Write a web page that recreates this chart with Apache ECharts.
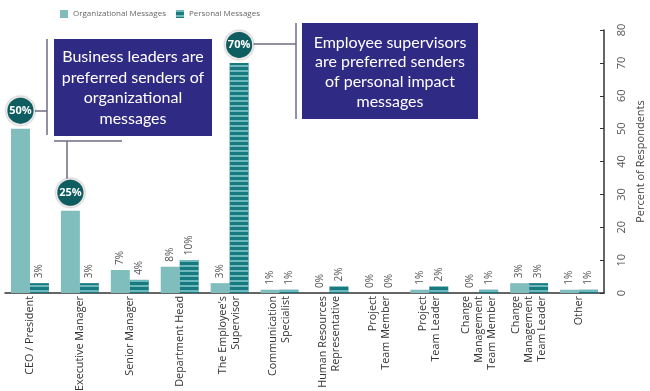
<!DOCTYPE html>
<html>
<head>
<meta charset="utf-8">
<script src="https://cdn.jsdelivr.net/npm/echarts@6/dist/echarts.min.js"></script>
<style>html,body{margin:0;padding:0;background:#fff;}#c{width:650px;height:391px;}</style>
</head>
<body>
<div id="c"></div>
<script>
var categories = ["CEO / President","Executive Manager","Senior Manager","Department Head","The Employee's\nSupervisor","Communication\nSpecialist","Human Resources\nRepresentative","Project\nTeam Member","Project\nTeam Leader","Change\nManagement\nTeam Member","Change\nManagement\nTeam Leader","Other"];
var orgValues = [50,25,7,8,3,1,0,0,1,0,3,1];
var personalValues = [3,3,4,10,70,1,2,0,2,1,3,1];
var highlightOrg = [0,1];
var highlightPersonal = [4];
var yTicks = [0,10,20,30,40,50,60,70,80];

var FONT = "'Open Sans', sans-serif";
var plainLabel = {show:true, position:'top', rotate:90, align:'left', verticalAlign:'middle', distance:5, formatter:'{c}%', color:'#555', fontSize:10, fontFamily:FONT};
var circleLabel = {show:true, position:'top', rotate:0, distance:5, formatter:'{c}%', color:'#fff', fontWeight:'bold', fontSize:11, fontFamily:FONT,
  backgroundColor:'#0e5d60', width:26, height:26, lineHeight:26, align:'center', verticalAlign:'bottom', borderRadius:13, borderColor:'#fff', borderWidth:1.5, shadowColor:'rgba(0,0,0,0.45)', shadowBlur:2};

function build(vals, hl){
  return vals.map(function(v,i){
    return hl.indexOf(i) >= 0 ? {value:v, label:circleLabel} : {value:v};
  });
}

var chart = echarts.init(document.getElementById('c'), null, {renderer:'canvas'});
var boxColor = '#2f2a84';
var lineColor = '#6e6d85';
chart.setOption({
  animation:false,
  legend:{left:55, top:5, itemWidth:8, itemHeight:8, itemGap:10, icon:'rect', textStyle:{fontSize:8, color:'#666', fontFamily:FONT},
    data:['Organizational Messages','Personal Messages']},
  grid:{left:5, right:46, top:30, bottom:98, outerBoundsMode:'none', containLabel:false},
  xAxis:{type:'category', data:categories,
    axisLine:{lineStyle:{color:'#333', width:1.5}},
    axisTick:{alignWithLabel:true, length:5, lineStyle:{color:'#333', width:1.5}},
    axisLabel:{rotate:90, interval:0, fontSize:10.8, color:'#333', fontFamily:FONT, margin:3, lineHeight:13}},
  yAxis:{type:'value', position:'right', min:0, max:80, interval:10,
    name:'Percent of Respondents', nameLocation:'middle', nameRotate:90, nameGap:24,
    nameTextStyle:{fontSize:11, color:'#444', fontFamily:FONT},
    axisLine:{show:true, lineStyle:{color:'#333', width:1.5}},
    axisTick:{show:true, inside:true, length:4, lineStyle:{color:'#333'}},
    splitLine:{show:false},
    axisLabel:{rotate:90, fontSize:11, color:'#555', fontFamily:FONT, margin:12,
      formatter:function(v){return yTicks.indexOf(v)>=0 ? String(v) : '';}}},
  series:[
    {name:'Organizational Messages', type:'bar', data:build(orgValues, highlightOrg), barGap:'0%', barCategoryGap:'24%',
      itemStyle:{color:'#80bdbd'}, label:plainLabel},
    {name:'Personal Messages', type:'bar', data:build(personalValues, highlightPersonal),
      itemStyle:{color:'#177a80', decal:{symbol:'rect', symbolSize:1, dashArrayX:[1,0], dashArrayY:[1.2,2.3], color:'rgba(170,225,228,0.6)', rotation:0}},
      label:plainLabel}
  ],
  graphic:[
    {type:'rect', shape:{x:54, y:39, width:158, height:97}, style:{fill:boxColor}},
    {type:'text', x:133, y:88, style:{text:"Business leaders are\npreferred senders of\norganizational\nmessages", fill:'#fff', font:"16px Lato, sans-serif", lineHeight:20.5, align:'center', verticalAlign:'middle'}},
    {type:'rect', shape:{x:302, y:23, width:176, height:96}, style:{fill:boxColor}},
    {type:'text', x:390, y:72, style:{text:"Employee supervisors\nare preferred senders\nof personal impact\nmessages", fill:'#fff', font:"16px Lato, sans-serif", lineHeight:19.7, align:'center', verticalAlign:'middle'}},
    {type:'line', shape:{x1:47, y1:39, x2:47, y2:135}, style:{stroke:lineColor, lineWidth:1.5}},
    {type:'line', shape:{x1:32, y1:111, x2:47, y2:111}, style:{stroke:lineColor, lineWidth:1.5}},
    {type:'line', shape:{x1:54, y1:141, x2:122, y2:141}, style:{stroke:lineColor, lineWidth:1.5}},
    {type:'line', shape:{x1:67, y1:141, x2:67, y2:180}, style:{stroke:lineColor, lineWidth:1.5}},
    {type:'line', shape:{x1:296, y1:23, x2:296, y2:119}, style:{stroke:lineColor, lineWidth:1.5}},
    {type:'line', shape:{x1:253, y1:44, x2:296, y2:44}, style:{stroke:lineColor, lineWidth:1.5}}
  ]
});
</script>
</body>
</html>
